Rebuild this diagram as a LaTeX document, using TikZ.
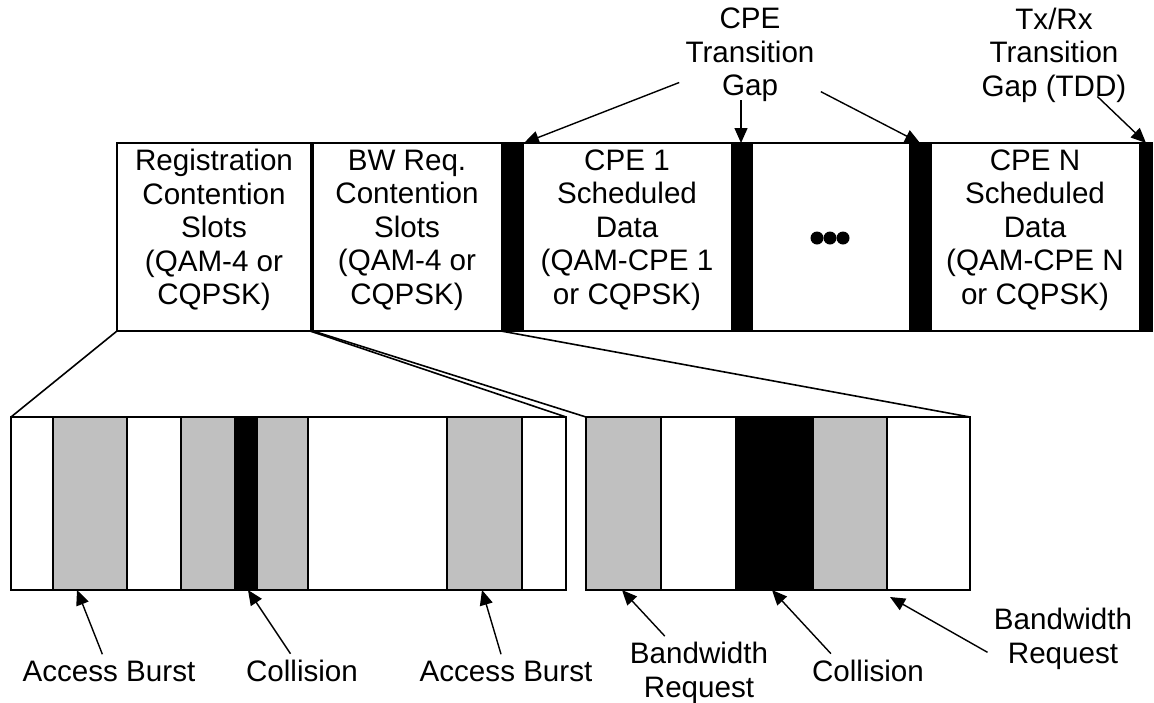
\documentclass[tikz,border=0pt]{standalone}
\usepackage{fontspec}
\setmainfont{Liberation Sans}
\usetikzlibrary{arrows.meta}

\definecolor{burstgray}{RGB}{192,192,192}

\tikzset{
  lbl/.style={font=\fontsize{14.8}{16.75}\selectfont, align=center, inner sep=3pt},
  frame/.style={draw=black, line width=1pt},
  gapbar/.style={fill=black, draw=black, line width=0.5pt},
  burst/.style={fill=burstgray, draw=black, line width=0.8pt},
  hit/.style={fill=black, draw=black, line width=0.8pt},
  arr/.style={-{Triangle[length=7.5pt,width=6.5pt]}, line width=0.7pt},
  zoomline/.style={line width=0.8pt}
}

\begin{document}
\begin{tikzpicture}[x=0.5pt, y=-0.5pt]
  \useasboundingbox (0,0) rectangle (1154,702);

  % Uplink subframe
  \draw[frame] (117,143) rectangle (1152,331);
  \path[gapbar] (310,143) rectangle (313,331);
  \path[gapbar] (501,143) rectangle (523,331);
  \path[gapbar] (731,143) rectangle (752,331);
  \path[gapbar] (909,143) rectangle (931,331);
  \path[gapbar] (1139,143) rectangle (1152,331);

  \node[lbl] (reg) at (214,230)
    {Registration\\Contention\\Slots\\(QAM-4 or\\CQPSK)};
  \node[lbl] (bwreq) at (407,230)
    {BW Req.\\Contention\\Slots\\(QAM-4 or\\CQPSK)};
  \node[lbl] (cpe1) at (627,230)
    {CPE 1\\Scheduled\\Data\\(QAM-CPE 1\\or CQPSK)};
  \node[lbl] (cpen) at (1035,230)
    {CPE N\\Scheduled\\Data\\(QAM-CPE N\\or CQPSK)};
  \foreach \dx in {-13,0,13}
    \fill (830+\dx,238) circle (6.5);

  % Gap markers
  \coordinate (gap1top) at (524,143);
  \coordinate (gap2top) at (741,143);
  \coordinate (gap3top) at (920,143);
  \coordinate (gap4top) at (1146,143);

  \node[lbl] (cpegap) at (750,55) {CPE\\Transition\\Gap};
  \node[lbl] (txrx) at (1054,55) {Tx/Rx\\Transition\\Gap (TDD)};

  \draw[arr] (cpegap) -- (gap1top);
  \draw[arr] ([yshift=4pt]cpegap.south -| gap2top) -- (gap2top);
  \draw[arr] (cpegap) -- (gap3top);
  \draw[arr, shorten <=30pt] (txrx.center) -- (gap4top);

  % Registration contention slots, zoomed
  \path[burst] (53,417) rectangle (127,590);
  \path[burst] (181,417) rectangle (235,590);
  \path[hit] (235,417) rectangle (257,590);
  \path[burst] (257,417) rectangle (308,590);
  \path[burst] (447,417) rectangle (522,590);
  \draw[frame] (11,417) rectangle (566,590);

  % BW request contention slots, zoomed
  \path[burst] (586,417) rectangle (661,590);
  \path[hit] (736,417) rectangle (813,590);
  \path[burst] (813,417) rectangle (887,590);
  \draw[frame] (586,417) rectangle (970,590);

  % Zoom lines
  \coordinate (regbl) at (117,331);
  \coordinate (regbr) at (310,331);
  \coordinate (bwbl) at (313,331);
  \coordinate (bwbr) at (501,331);
  \coordinate (accl) at (11,417);
  \coordinate (accr) at (566,417);
  \coordinate (bwl) at (586,417);
  \coordinate (bwr) at (970,417);
  \draw[zoomline] (regbl) -- (accl);
  \draw[zoomline] (regbr) -- (accr);
  \draw[zoomline] (bwbl) -- (bwl);
  \draw[zoomline] (bwbr) -- (bwr);

  % Burst labels
  \coordinate (ab1tip) at (77,590);
  \coordinate (col1tip) at (248,590);
  \coordinate (ab2tip) at (482,590);
  \coordinate (br1tip) at (622,590);
  \coordinate (col2tip) at (772,590);
  \coordinate (br2tip) at (890,597);

  \node[lbl] (ab1) at (109,671) {Access Burst};
  \node[lbl] (col1) at (302,671) {Collision};
  \node[lbl] (ab2) at (506,671) {Access Burst};
  \node[lbl] (br1) at (699,673) {Bandwidth\\Request};
  \node[lbl] (col2) at (868,671) {Collision};
  \node[lbl] (br2) at (1063,639) {Bandwidth\\Request};

  \draw[arr] (ab1) -- (ab1tip);
  \draw[arr] (col1) -- (col1tip);
  \draw[arr] (ab2) -- (ab2tip);
  \draw[arr] (br1) -- (br1tip);
  \draw[arr] (col2.155) -- (col2tip);
  \draw[arr] (br2.190) -- (br2tip);
\end{tikzpicture}
\end{document}
